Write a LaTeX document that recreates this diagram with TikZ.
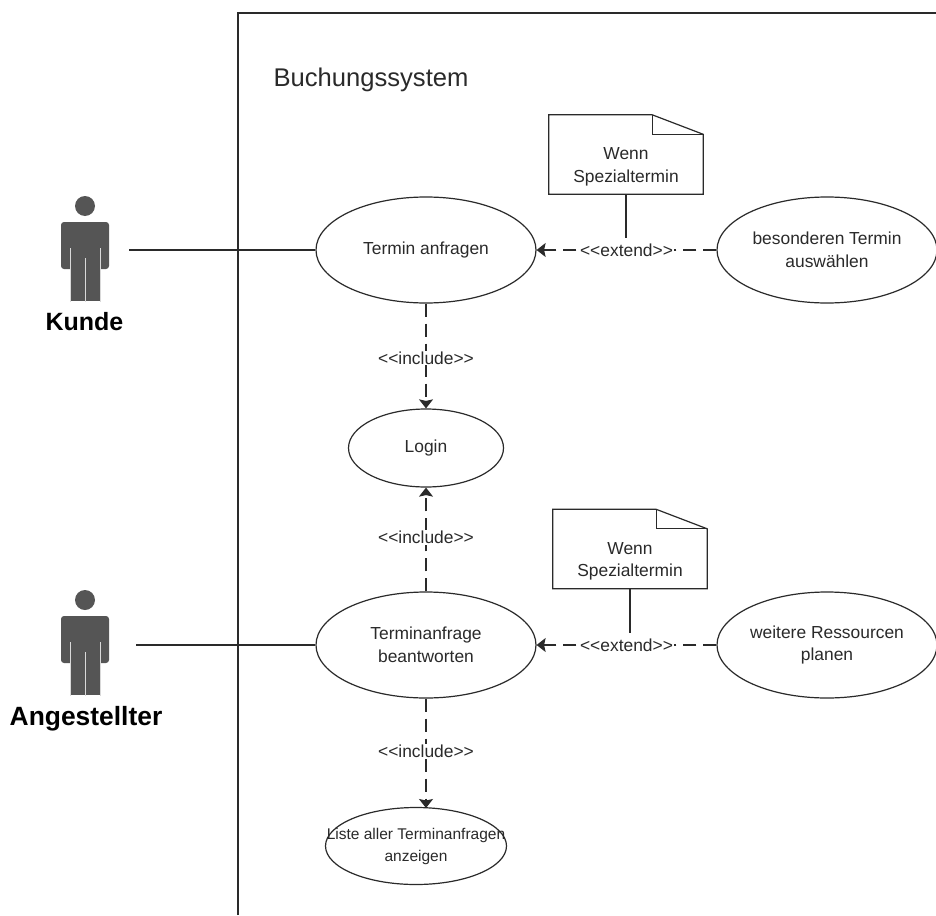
\documentclass[tikz,border=0pt]{standalone}
\usepackage{fontspec}
\setmainfont{Liberation Sans}
\usetikzlibrary{shapes.geometric,arrows.meta}
\definecolor{ink}{HTML}{2A2A2A}
\definecolor{actorgray}{HTML}{555555}
\tikzset{
  usecase/.style={draw=ink,line width=1.2pt,ellipse,inner sep=0pt,minimum width=220pt,minimum height=106pt,align=center,font=\fontsize{17.4}{22.5}\selectfont,text=ink},
  notetext/.style={minimum width=154pt,minimum height=79pt,inner sep=0pt,align=center,font=\fontsize{17.4}{22.5}\selectfont,text=ink},
  noteline/.style={draw=ink,line width=1.2pt,line join=miter},
  assoc/.style={draw=ink,line width=1.2pt},
  depend/.style={draw=ink,line width=1.2pt,dash pattern=on 13pt off 7pt,-{Stealth[length=9pt,width=14pt,inset=1.5pt]}},
  deplabel/.style={fill=white,inner sep=1pt,font=\fontsize{17.4}{20}\selectfont,text=ink},
  actorlabel/.style={font=\bfseries\fontsize{25}{28}\selectfont,text=black},
  systitle/.style={font=\fontsize{25.6}{28}\selectfont,text=ink}
}
\newcommand{\actorfig}[2]{%
  \fill[actorgray] (#1,#2) circle (10pt);
  \fill[actorgray,rounded corners=3pt] (#1-24,#2+16) -- (#1+24,#2+16) -- (#1+24,#2+63) -- (#1-24,#2+63) -- cycle;
  \fill[actorgray] (#1-14.5,#2+60) rectangle (#1+14.5,#2+95);
  \draw[white!85!black,line width=1pt] (#1-15,#2+42) -- (#1-15,#2+96) (#1+15,#2+42) -- (#1+15,#2+96) (#1,#2+52) -- (#1,#2+96);
}
\begin{document}
\begin{tikzpicture}[x=1pt,y=-1pt]
\useasboundingbox (0,0) rectangle (936,915);
\fill[white] (0,0) rectangle (936,915);
% system boundary
\coordinate (sysA) at (238,915);
\coordinate (sysB) at (238,13);
\coordinate (sysC) at (936,13);
\draw[assoc] (sysA) -- (sysB) -- (sysC);
\node[systitle,anchor=west] (sys) at (270,80) {Buchungssystem};
% actors
\actorfig{85}{206}
\actorfig{85}{600}
\node[actorlabel] (kunde) at (84.5,322) {Kunde};
\node[actorlabel,font=\bfseries\fontsize{26.4}{28}\selectfont] (angest) at (86,719) {Angestellter};
\coordinate (kundeHand) at (129,250);
\coordinate (angestHand) at (136,645);
% use cases
\node[usecase] (termin) at (426,250) {Termin anfragen};
\node[usecase] (besonders) at (827,250) {besonderen Termin\\auswählen};
\node[usecase,minimum width=155pt,minimum height=78pt] (login) at (426,448) {Login};
\node[usecase] (anfrage) at (426,645) {Terminanfrage\\beantworten};
\node[usecase] (ressourcen) at (827,645) {weitere Ressourcen\\planen};
\node[usecase,minimum width=181pt,minimum height=77pt] (liste) at (416,846) {\makebox[0pt]{\fontsize{15.5}{22.5}\selectfont\begin{tabular}{@{}c@{}}Liste aller Terminanfragen\\anzeigen\end{tabular}}};
% notes
\node[notetext] (note1) at (626,154.5) {\\[14pt]Wenn\\Spezialtermin};
\node[notetext] (note2) at (630,549) {\\[14pt]Wenn\\Spezialtermin};
\foreach \n in {note1,note2}{
  \draw[noteline] (\n.north west) -- ([xshift=-51pt]\n.north east) -- ([yshift=-19.5pt]\n.north east) -- (\n.south east) -- (\n.south west) -- cycle;
  \draw[noteline] ([xshift=-51pt]\n.north east) -- ([xshift=-51pt,yshift=-19.5pt]\n.north east) -- ([yshift=-19.5pt]\n.north east);
}
\coordinate (link1) at (note1.south |- 0,238);
\coordinate (link2) at (note2.south |- 0,633);
\draw[assoc] (note1.south) -- (link1);
\draw[assoc] (note2.south) -- (link2);
% associations
\draw[assoc] (kundeHand) -- (termin.west);
\draw[assoc] (angestHand) -- (anfrage.west);
% dependencies
\draw[depend] (besonders.west) -- node[deplabel,pos=0.5] (ext1) {<{}<extend>{}>} (termin.east);
\draw[depend] (ressourcen.west) -- node[deplabel,pos=0.5] (ext2) {<{}<extend>{}>} (anfrage.east);
\draw[depend] (termin.south) -- node[deplabel,pos=0.52] (inc1) {<{}<include>{}>} (login.north);
\draw[depend] (anfrage.north) -- node[deplabel,pos=0.52] (inc2) {<{}<include>{}>} (login.south);
\coordinate (listeTop) at (426,808);
\draw[depend] (anfrage.south) -- node[deplabel,pos=0.48] (inc3) {<{}<include>{}>} (listeTop);
\end{tikzpicture}
\end{document}
